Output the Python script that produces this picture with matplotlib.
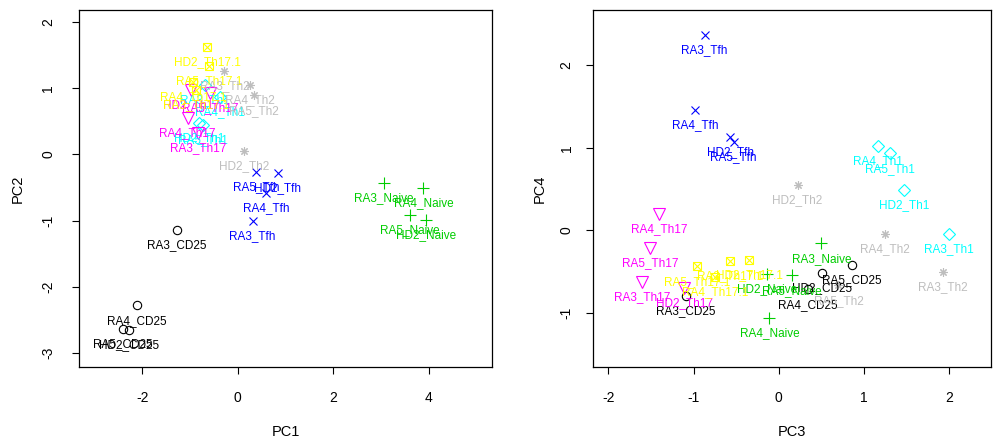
import matplotlib
matplotlib.use("Agg")
import matplotlib.pyplot as plt

plt.rcParams['font.family'] = ['Liberation Sans', 'DejaVu Sans']
plt.rcParams['axes.unicode_minus'] = False

## Data
groups = ["CD25", "Naive", "Tfh", "Th1", "Th17", "Th17.1", "Th2"]
donors = ["RA3", "RA4", "RA5", "HD2"]
group_colors = ["black", "#00CD00", "blue", "cyan", "magenta", "yellow", "#BEBEBE"]

# one row per group, in donor order RA3, RA4, RA5, HD2
pc1 = [[-1.28, -2.11, -2.41, -2.29],
       [3.07, 3.89, 3.61, 3.94],
       [0.31, 0.59, 0.38, 0.84],
       [-0.69, -0.37, -0.73, -0.81],
       [-0.83, -1.05, -0.58, -0.98],
       [-0.87, -0.93, -0.60, -0.64],
       [-0.28, 0.26, 0.33, 0.14]]
pc2 = [[-1.14, -2.28, -2.64, -2.65],
       [-0.43, -0.50, -0.91, -0.99],
       [-1.01, -0.58, -0.26, -0.28],
       [1.05, 0.87, 0.45, 0.47],
       [0.33, 0.55, 0.93, 0.97],
       [0.97, 1.10, 1.33, 1.62],
       [1.26, 1.05, 0.89, 0.05]]
pc3 = [[-1.09, 0.34, 0.86, 0.51],
       [0.50, -0.11, 0.15, -0.14],
       [-0.87, -0.98, -0.53, -0.57],
       [2.00, 1.16, 1.31, 1.47],
       [-1.60, -1.40, -1.51, -1.11],
       [-0.57, -0.75, -0.96, -0.35],
       [1.93, 1.25, 0.70, 0.22]]
pc4 = [[-0.80, -0.72, -0.42, -0.52],
       [-0.16, -1.06, -0.55, -0.53],
       [2.37, 1.46, 1.07, 1.13],
       [-0.05, 1.02, 0.93, 0.49],
       [-0.63, 0.20, -0.22, -0.70],
       [-0.37, -0.57, -0.44, -0.36],
       [-0.51, -0.05, -0.67, 0.55]]

# R style pch symbols 1,3,4,5,6,7,8
def draw_marker(ax, x, y, g, col):
    kw = dict(color=col, linestyle="none", markersize=6, markeredgewidth=0.8)
    if g == 0:
        ax.plot(x, y, "o", markerfacecolor="none", **kw)
    elif g == 1:
        ax.plot(x, y, "+", markersize=9, color=col, linestyle="none", markeredgewidth=0.8)
    elif g == 2:
        ax.plot(x, y, "x", **kw)
    elif g == 3:
        ax.plot(x, y, "D", markerfacecolor="none", **kw)
    elif g == 4:
        ax.plot(x, y, "v", markerfacecolor="none", markersize=8, color=col, linestyle="none", markeredgewidth=0.8)
    elif g == 5:
        ax.plot(x, y, "s", markerfacecolor="none", **kw)
        ax.plot(x, y, "x", **kw)
    else:
        ax.plot(x, y, marker=(8, 2, 0), **kw)

def pca_panel(ax, xs, ys, xlab, ylab, ypad):
    for g in range(len(groups)):
        for d in range(len(donors)):
            draw_marker(ax, xs[g][d], ys[g][d], g, group_colors[g])
            ax.annotate(donors[d] + "_" + groups[g], (xs[g][d], ys[g][d]),
                        xytext=(0, -11), textcoords="offset points",
                        ha="center", va="center", fontsize=8.5, color=group_colors[g])
    ax.set_xlabel(xlab, fontsize=10.5, labelpad=15)
    ax.set_ylabel(ylab, fontsize=10.5, labelpad=ypad)
    ax.tick_params(direction="out", length=5, width=0.8, labelsize=10, pad=12)
    for s in ax.spines.values():
        s.set_linewidth(0.9)

W, H = 997, 443
fig = plt.figure(figsize=(W / 100, H / 100), dpi=100)

# left panel: PC1 vs PC2
ax1 = fig.add_axes([79 / W, 1 - 367 / H, 413 / W, 357 / H])
pca_panel(ax1, pc1, pc2, "PC1", "PC2", 12)
ax1.set_xlim(-3.33, 5.33)
ax1.set_ylim(-3.21, 2.18)
ax1.set_xticks([-2, 0, 2, 4])
ax1.set_yticks([-3, -2, -1, 0, 1, 2])

# right panel: PC3 vs PC4
ax2 = fig.add_axes([593 / W, 1 - 367 / H, 398 / W, 357 / H])
pca_panel(ax2, pc3, pc4, "PC3", "PC4", 9)
ax2.set_xlim(-2.18, 2.49)
ax2.set_ylim(-1.66, 2.67)
ax2.set_xticks([-2, -1, 0, 1, 2])
ax2.set_yticks([-1, 0, 1, 2])
ax2.tick_params(axis="y", pad=9)

for ax in (ax1, ax2):
    for lab in ax.get_yticklabels():
        lab.set_rotation(90)
        lab.set_va("center")

fig.savefig("out.png", dpi=100)
